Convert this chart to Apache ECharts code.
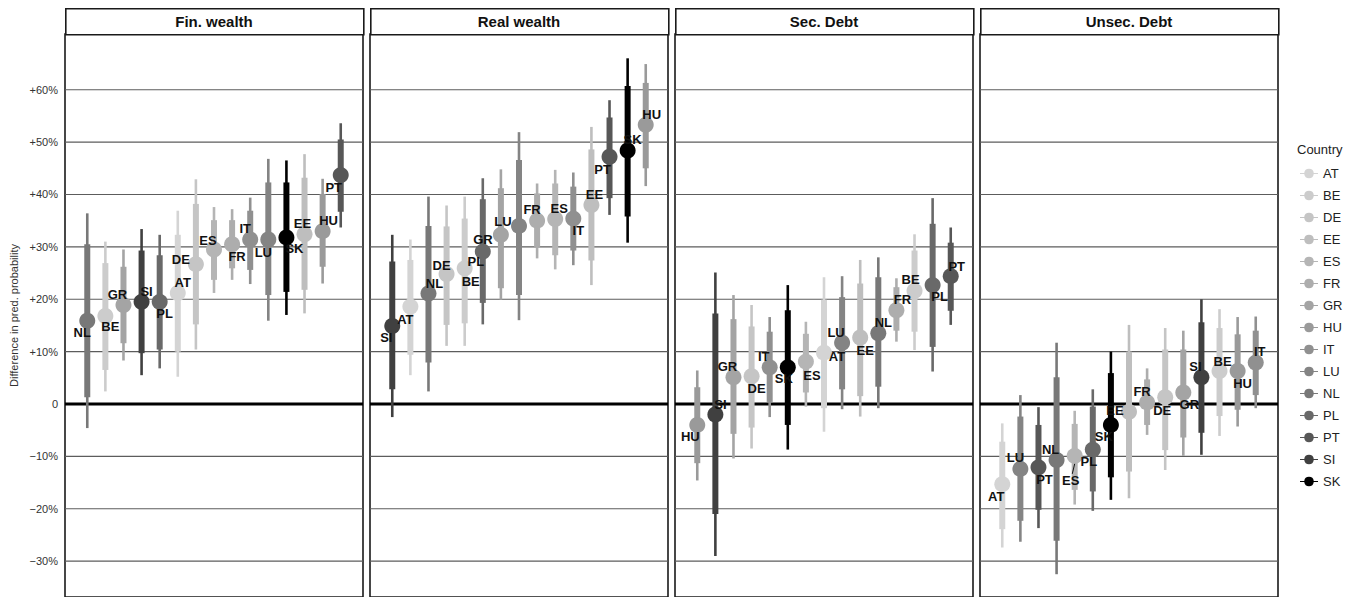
<!DOCTYPE html>
<html>
<head>
<meta charset="utf-8">
<title>Difference in predicted probability by country</title>
<script src="https://cdn.jsdelivr.net/npm/echarts@6/dist/echarts.min.js"></script>
<style>
  html, body { margin: 0; padding: 0; background: #fff; }
  #chart { width: 1364px; height: 597px; }
</style>
</head>
<body>
<div id="chart"></div>
<script>
// Facet titles
const panels = ['Fin. wealth', 'Real wealth', 'Sec. Debt', 'Unsec. Debt'];

// Legend order
const countries = ['AT', 'BE', 'DE', 'EE', 'ES', 'FR', 'GR', 'HU', 'IT', 'LU', 'NL', 'PL', 'PT', 'SI', 'SK'];

// Y ticks (percentage points)
const yTicks = [-30, -20, -10, 0, 10, 20, 30, 40, 50, 60];

// Rows: [country, estimate, inner low, inner high, outer low, outer high], sorted by estimate
const finWealth = [
  ['NL', 15.9, 1.3, 30.5, -4.6, 36.4],
  ['BE', 16.8, 6.5, 26.9, 2.4, 31.0],
  ['GR', 18.9, 11.6, 26.2, 8.3, 29.5],
  ['SI', 19.5, 9.7, 29.3, 5.5, 33.4],
  ['PL', 19.5, 10.4, 28.4, 6.8, 32.3],
  ['AT', 21.2, 10.0, 32.3, 5.2, 36.9],
  ['DE', 26.7, 15.2, 38.2, 10.4, 42.9],
  ['ES', 29.5, 23.7, 35.1, 21.2, 37.6],
  ['FR', 30.5, 25.9, 35.1, 23.7, 37.2],
  ['IT', 31.4, 25.6, 36.9, 22.9, 39.4],
  ['LU', 31.4, 20.8, 42.3, 15.9, 46.8],
  ['SK', 31.8, 21.4, 42.3, 17.0, 46.5],
  ['EE', 32.4, 21.8, 43.2, 17.3, 47.7],
  ['HU', 33.0, 26.2, 40.1, 23.0, 43.0],
  ['PT', 43.7, 36.7, 50.5, 33.7, 53.6]
];

const realWealth = [
  ['SI', 14.9, 2.8, 27.2, -2.5, 32.3],
  ['AT', 18.6, 9.4, 27.5, 5.5, 31.4],
  ['NL', 21.1, 7.9, 34.0, 2.4, 39.6],
  ['DE', 24.8, 15.1, 33.9, 11.1, 37.9],
  ['BE', 25.9, 15.4, 35.4, 11.1, 39.6],
  ['PL', 29.1, 19.3, 39.1, 15.2, 43.1],
  ['GR', 32.3, 22.1, 41.2, 19.9, 44.8],
  ['LU', 34.0, 20.8, 46.6, 16.0, 51.9],
  ['FR', 35.0, 30.0, 40.2, 27.8, 42.1],
  ['ES', 35.3, 28.4, 42.1, 25.7, 44.7],
  ['IT', 35.4, 29.3, 41.5, 26.5, 44.2],
  ['EE', 38.0, 27.4, 48.6, 22.7, 52.9],
  ['PT', 47.2, 39.3, 54.7, 36.1, 58.0],
  ['SK', 48.4, 35.8, 60.7, 30.8, 66.0],
  ['HU', 53.3, 45.0, 61.3, 41.6, 64.9]
];

const secDebt = [
  ['HU', -4.0, -11.3, 3.2, -14.6, 6.4],
  ['SI', -2.0, -21.0, 17.3, -29.0, 25.1],
  ['GR', 5.1, -5.7, 16.2, -10.4, 20.8],
  ['DE', 5.3, -4.5, 14.8, -8.5, 18.9],
  ['IT', 7.0, 0.4, 13.8, -2.5, 16.6],
  ['SK', 7.0, -4.0, 17.9, -8.7, 22.7],
  ['ES', 8.1, 2.2, 13.4, -0.5, 15.7],
  ['AT', 9.8, -0.8, 19.9, -5.3, 24.2],
  ['LU', 11.7, 2.8, 20.4, -1.0, 24.4],
  ['EE', 12.7, 1.5, 23.0, -2.4, 27.5],
  ['NL', 13.5, 3.3, 24.2, -0.8, 28.0],
  ['FR', 17.9, 14.0, 22.3, 11.9, 24.0],
  ['BE', 21.6, 13.8, 29.3, 10.3, 32.4],
  ['PL', 22.7, 10.9, 34.4, 6.2, 39.3],
  ['PT', 24.4, 17.8, 30.8, 15.1, 33.7]
];

const unsecDebt = [
  ['AT', -15.3, -23.9, -7.2, -27.4, -3.7],
  ['LU', -12.4, -22.3, -2.4, -26.3, 1.7],
  ['PT', -12.1, -20.2, -4.0, -23.7, -0.6],
  ['NL', -10.7, -26.1, 5.1, -32.5, 11.7],
  ['ES', -9.9, -16.4, -3.8, -19.2, -1.3],
  ['PL', -8.7, -16.7, -0.5, -20.4, 2.8],
  ['SK', -4.0, -14.0, 5.9, -18.3, 10.0],
  ['EE', -1.5, -12.9, 10.0, -18.0, 15.1],
  ['FR', 0.3, -4.0, 4.7, -5.9, 6.8],
  ['DE', 1.3, -8.8, 10.4, -12.6, 14.5],
  ['GR', 2.2, -6.4, 10.4, -9.9, 14.0],
  ['SI', 5.1, -5.5, 15.6, -9.7, 20.0],
  ['BE', 6.3, -2.3, 14.5, -6.1, 18.1],
  ['HU', 6.3, -1.1, 13.3, -4.3, 16.6],
  ['IT', 7.9, 1.7, 14.0, -0.8, 16.7]
];

const panelRows = [finWealth, realWealth, secDebt, unsecDebt];

// Label offsets from each point, in px (same row order as above)
const labelNudge = [
  [[-5,12],[5,11],[-6,-10],[5,-10],[5,12],[5,-10],[-15,-5],[-6,-9],[5,12],[-5,-11],[-5,13],[8,11],[-2,-11],[6,-11],[-7,12]],
  [[-6,12],[-5,13],[6,-10],[-5,-9],[6,13],[-7,10],[-18,5],[-16,-4],[-5,-11],[4,-11],[5,12],[3,-10],[-7,13],[5,-11],[6,-10]],
  [[-7,12],[5,-10],[-6,-11],[5,12],[-6,-11],[-4,11],[6,14],[13,4],[-6,-10],[5,13],[5,-11],[6,-11],[-4,-11],[7,11],[6,-10]],
  [[-6,12],[-5,-11],[6,12],[-6,-11],[-4,25],[-4,12],[-7,12],[-14,-1],[-5,-11],[-3,13],[6,12],[-6,-11],[3,-9],[5,13],[4,-11]]
];

// Grey ramp per country, light to black
const countryColors = {
  AT: '#d4d4d4', BE: '#cccccc', DE: '#c5c5c5', EE: '#bebebe', ES: '#b5b5b5',
  FR: '#adadad', GR: '#a4a4a4', HU: '#9a9a9a', IT: '#909090', LU: '#848484',
  NL: '#787878', PL: '#696969', PT: '#575757', SI: '#404040', SK: '#000000'
};

const FONT = '"Liberation Sans", Arial, Helvetica, sans-serif';
const left0 = 65, step = 305, panelW = 298, gridTop = 34, gridH = 563;
const yMin = -36.85, yMax = 70.64;
const xMin = -1.23, xMax = 15.23;

const grids = [], xAxes = [], yAxes = [], series = [], graphics = [];

// Legend key: a dot on a short horizontal line
const legendIcon = 'path://M0,4.4L4.24,4.4A4.8,4.8,0,0,1,13.76,4.4L18,4.4L18,5.6L13.76,5.6A4.8,4.8,0,0,1,4.24,5.6L0,5.6Z';

panels.forEach((title, p) => {
  const left = left0 + p * step;
  grids.push({
    left: left, top: gridTop, width: panelW, height: gridH,
    show: true, borderColor: '#1a1a1a', borderWidth: 1.6, backgroundColor: '#fff'
  });
  xAxes.push({ gridIndex: p, type: 'value', min: xMin, max: xMax, show: false });
  yAxes.push({
    gridIndex: p, type: 'value', min: yMin, max: yMax,
    axisLine: { show: false }, axisTick: { show: false }, splitLine: { show: false },
    name: p === 0 ? 'Difference in pred. probability' : '',
    nameLocation: 'middle', nameGap: 46, nameRotate: 90,
    nameTextStyle: { fontFamily: FONT, fontSize: 11, color: '#333' },
    axisLabel: {
      show: p === 0,
      customValues: yTicks,
      margin: 7,
      fontFamily: FONT, fontSize: 11, color: '#333',
      formatter: v => v === 0 ? '0' : (v > 0 ? '+' + v + '%' : '\u2212' + Math.abs(v) + '%')
    }
  });

  // Strip header
  graphics.push({
    type: 'rect', left: left, top: 8,
    shape: { width: panelW, height: 26 },
    style: { fill: '#fff', stroke: '#1a1a1a', lineWidth: 1.6 }, z: 10
  });
  graphics.push({
    type: 'text', x: left + panelW / 2, y: 21, z: 11,
    style: { text: title, font: 'bold 15px ' + FONT, fill: '#111', align: 'center', verticalAlign: 'middle' }
  });

  // Horizontal reference lines at each tick
  series.push({
    type: 'custom', xAxisIndex: p, yAxisIndex: p, z: 1, silent: true,
    data: yTicks.map(v => [0, v]),
    renderItem: (params, api) => {
      const cs = params.coordSys;
      const v = api.value(1);
      const y = api.coord([0, v])[1];
      return {
        type: 'line',
        shape: { x1: cs.x, y1: y, x2: cs.x + cs.width, y2: y },
        style: { stroke: v === 0 ? '#000' : '#5c5c5c', lineWidth: v === 0 ? 3.2 : 1.1 }
      };
    }
  });

  const rows = panelRows[p];

  // Point ranges: outer interval, inner interval, estimate
  rows.forEach((r, i) => {
    const c = r[0];
    series.push({
      name: c, type: 'custom', xAxisIndex: p, yAxisIndex: p, z: 3,
      itemStyle: { color: countryColors[c] },
      data: [[i, r[1], r[2], r[3], r[4], r[5]]],
      renderItem: (params, api) => {
        const x = api.value(0);
        const col = api.visual('color');
        const pc = api.coord([x, api.value(1)]);
        const in1 = api.coord([x, api.value(2)]), in2 = api.coord([x, api.value(3)]);
        const out1 = api.coord([x, api.value(4)]), out2 = api.coord([x, api.value(5)]);
        return {
          type: 'group',
          children: [
            { type: 'line', shape: { x1: pc[0], y1: out1[1], x2: pc[0], y2: out2[1] }, style: { stroke: col, lineWidth: 2.6 } },
            { type: 'line', shape: { x1: pc[0], y1: in1[1], x2: pc[0], y2: in2[1] }, style: { stroke: col, lineWidth: 6 } },
            { type: 'circle', shape: { cx: pc[0], cy: pc[1], r: 8 }, style: { fill: col } }
          ]
        };
      }
    });
  });

  // Country code labels, on top of the marks
  series.push({
    type: 'custom', xAxisIndex: p, yAxisIndex: p, z: 5, silent: true,
    data: rows.map((r, i) => [i, r[1]]),
    renderItem: (params, api) => {
      const i = params.dataIndex;
      const pt = api.coord([api.value(0), api.value(1)]);
      const nd = labelNudge[p][i];
      const children = [{
        type: 'text', x: pt[0] + nd[0], y: pt[1] + nd[1],
        style: { text: rows[i][0], font: 'bold 13px ' + FONT, fill: '#111', align: 'center', verticalAlign: 'middle' }
      }];
      if (Math.abs(nd[1]) > 18) {
        const dir = nd[1] > 0 ? 1 : -1;
        children.push({
          type: 'line',
          shape: { x1: pt[0], y1: pt[1] + dir * 8, x2: pt[0] + nd[0] * 0.6, y2: pt[1] + nd[1] - dir * 7 },
          style: { stroke: '#111', lineWidth: 1 }
        });
      }
      return { type: 'group', children };
    }
  });
});

graphics.push({
  type: 'text', left: 1297, top: 143,
  style: { text: 'Country', font: '13px ' + FONT, fill: '#222' }
});

const chart = echarts.init(document.getElementById('chart'), null, { renderer: 'svg' });
chart.setOption({
  animation: false,
  backgroundColor: '#fff',
  textStyle: { fontFamily: FONT },
  grid: grids,
  xAxis: xAxes,
  yAxis: yAxes,
  legend: {
    data: countries,
    orient: 'vertical',
    left: 1295, top: 162,
    itemWidth: 18, itemHeight: 10, itemGap: 9,
    icon: legendIcon,
    selectedMode: false,
    textStyle: { fontFamily: FONT, fontSize: 13, color: '#222' }
  },
  graphic: graphics,
  series: series
});
</script>
</body>
</html>
